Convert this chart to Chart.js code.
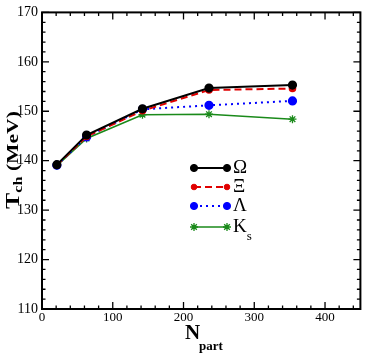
<!DOCTYPE html>
<html lang="en">
<head>
    <meta charset="UTF-8">
    <title>T_ch vs N_part</title>
    <script src="https://cdn.jsdelivr.net/npm/chart.js"></script>
    <style>
        body { margin: 0; background: #fff; }
    </style>
</head>
<body>
    <canvas id="tchChart" width="366" height="354"></canvas>

    <script>
        // values
        const nPart = [21, 63, 142, 236, 354];
        const tOmega = [139.2, 145.2, 150.5, 154.7, 155.3];
        const tXi = [139.1, 144.9, 150.1, 154.3, 154.6];
        const tLambda = [139.1, 144.8, 150.4, 151.2, 152.1];
        const tKs = [139.0, 144.5, 149.3, 149.4, 148.4];
        const xTicks = [0, 100, 200, 300, 400];
        const yTicks = [110, 120, 130, 140, 150, 160, 170];

        const legendItems = [
            { label: "\u03A9", sub: "" },
            { label: "\u039E", sub: "" },
            { label: "\u039B", sub: "" },
            { label: "K", sub: "s" }
        ];

        const serif = "'Liberation Serif', 'DejaVu Serif', serif";

        function pts(ys) {
            return nPart.map((x, i) => ({ x: x, y: ys[i] }));
        }

        const datasets = [
            { data: pts(tOmega), borderColor: "#000", backgroundColor: "#000", borderWidth: 2,
              pointStyle: "circle", pointRadius: 3.6 },
            { data: pts(tXi), borderColor: "#e00000", backgroundColor: "#e00000", borderWidth: 2,
              borderDash: [7, 4], pointStyle: "circle", pointRadius: 2.8 },
            { data: pts(tLambda), borderColor: "#0000ff", backgroundColor: "#0000ff", borderWidth: 2,
              borderDash: [2, 4], pointStyle: "circle", pointRadius: 3.6 },
            { data: pts(tKs), borderColor: "#1a8a1a", backgroundColor: "#1a8a1a", borderWidth: 1.6,
              pointStyle: "star", pointRadius: 4, pointBorderWidth: 1.3 }
        ];
        datasets.forEach(d => { d.showLine = true; d.tension = 0; d.pointHoverRadius = d.pointRadius; });

        // frame, inward ticks on all sides, axis titles and the legend
        const decor = {
            id: "decor",
            afterDraw(chart) {
                const c = chart.ctx;
                const a = chart.chartArea;
                const xs = chart.scales.x, ys = chart.scales.y;
                c.save();
                c.strokeStyle = "#000";
                c.lineWidth = 2;
                c.strokeRect(a.left, a.top, a.right - a.left, a.bottom - a.top);
                c.lineWidth = 1.3;
                c.beginPath();
                for (let v = 0; v <= 450; v += 20) {
                    const px = xs.getPixelForValue(v);
                    if (px > a.right) break;
                    const len = v % 100 === 0 ? 7 : 3.5;
                    c.moveTo(px, a.bottom); c.lineTo(px, a.bottom - len);
                    c.moveTo(px, a.top); c.lineTo(px, a.top + len);
                }
                for (let v = 110; v <= 170; v += 2) {
                    const py = ys.getPixelForValue(v);
                    const len = v % 10 === 0 ? 7 : 3.5;
                    c.moveTo(a.left, py); c.lineTo(a.left + len, py);
                    c.moveTo(a.right, py); c.lineTo(a.right - len, py);
                }
                c.stroke();

                // y title (stretched along its length like the original)
                c.fillStyle = "#000";
                c.translate(14, 160);
                c.rotate(-Math.PI / 2);
                c.scale(1.35, 1);
                c.textBaseline = "middle";
                c.font = "bold 18px " + serif;
                const w1 = c.measureText("T").width;
                c.font = "bold 12px " + serif;
                const w2 = c.measureText("ch").width;
                c.font = "bold 16px " + serif;
                const w3 = c.measureText(" (MeV)").width;
                let x0 = -(w1 + w2 + w3) / 2;
                c.font = "bold 18px " + serif;
                c.fillText("T", x0, 0);
                c.font = "bold 12px " + serif;
                c.fillText("ch", x0 + w1, 5);
                c.font = "bold 16px " + serif;
                c.fillText(" (MeV)", x0 + w1 + w2, 0);
                c.restore();

                // x title
                c.save();
                c.fillStyle = "#000";
                c.textBaseline = "alphabetic";
                c.font = "bold 21px " + serif;
                c.fillText("N", 185, 339);
                c.font = "bold 13px " + serif;
                c.fillText("part", 199, 350);
                c.restore();

                // legend
                c.save();
                const rowY = [168, 187, 206, 227];
                const lx0 = 194, lx1 = 227;
                chart.data.datasets.forEach((d, i) => {
                    const y = rowY[i];
                    c.strokeStyle = d.borderColor;
                    c.lineWidth = d.borderWidth;
                    c.setLineDash(d.borderDash || []);
                    c.beginPath();
                    c.moveTo(lx0, y); c.lineTo(lx1, y);
                    c.stroke();
                    c.setLineDash([]);
                    c.fillStyle = d.backgroundColor;
                    c.strokeStyle = d.borderColor;
                    c.lineWidth = d.pointBorderWidth || 1;
                    [lx0, lx1].forEach(px => {
                        Chart.helpers.drawPoint(c, {
                            pointStyle: d.pointStyle, radius: d.pointRadius,
                            borderWidth: d.pointBorderWidth || 1, rotation: 0
                        }, px, y);
                    });
                    c.fillStyle = "#000";
                    c.textBaseline = "middle";
                    c.font = "19px " + serif;
                    c.fillText(legendItems[i].label, 233, y);
                    if (legendItems[i].sub) {
                        const w = c.measureText(legendItems[i].label).width;
                        c.font = "13px " + serif;
                        c.fillText(legendItems[i].sub, 233 + w, y + 10);
                    }
                });
                c.restore();
            }
        };

        new Chart(document.getElementById("tchChart"), {
            type: "scatter",
            data: { datasets: datasets },
            plugins: [decor],
            options: {
                responsive: false,
                animation: false,
                devicePixelRatio: 1,
                layout: { padding: { top: 7, right: 5, left: 0, bottom: 0 } },
                plugins: { legend: { display: false }, tooltip: { enabled: false } },
                scales: {
                    x: {
                        type: "linear", min: 0, max: 450,
                        afterFit: s => { s.height = 45; },
                        afterBuildTicks: s => { s.ticks = xTicks.map(v => ({ value: v })); },
                        grid: { display: false, drawTicks: false }, border: { display: false },
                        ticks: { color: "#000", padding: 1, maxRotation: 0,
                                 font: { family: serif, size: 13 } }
                    },
                    y: {
                        type: "linear", min: 110, max: 170,
                        afterFit: s => { s.width = 42; },
                        afterBuildTicks: s => { s.ticks = yTicks.map(v => ({ value: v })); },
                        grid: { display: false, drawTicks: false }, border: { display: false },
                        ticks: { color: "#000", padding: 4,
                                 font: { family: serif, size: 14 } }
                    }
                }
            }
        });
    </script>
</body>
</html>
